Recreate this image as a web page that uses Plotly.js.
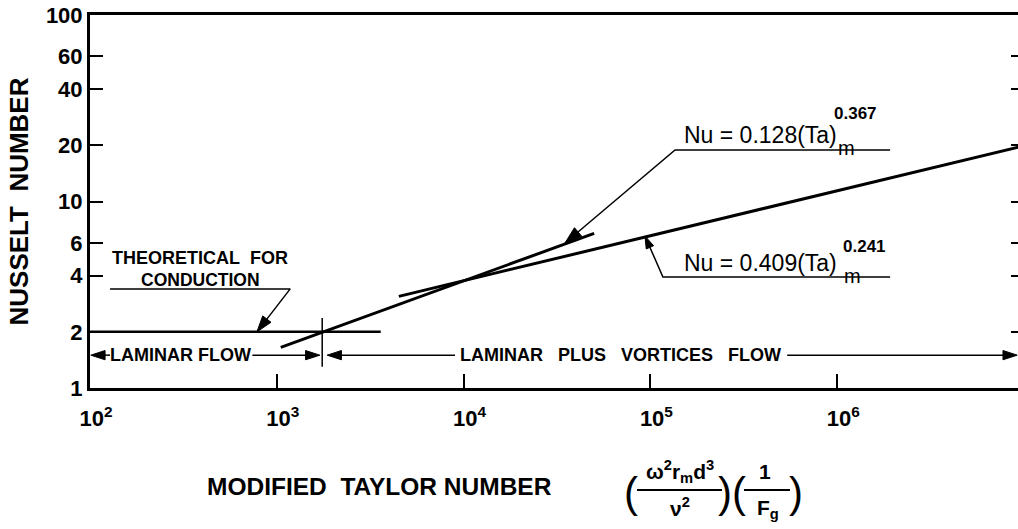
<!DOCTYPE html>
<html><head><meta charset="utf-8">
<script src="https://cdn.plot.ly/plotly-3.0.1.min.js"></script>
<style>html,body{margin:0;padding:0;overflow:hidden;background:#fff}#chart{width:1026px;height:529px}</style>
</head><body><div id="chart"></div>
<script>
// ---- data ----
const xTickVals = [1e2, 1e3, 1e4, 1e5, 1e6];
const xTickText = ['10<sup>2</sup>', '10<sup>3</sup>', '10<sup>4</sup>', '10<sup>5</sup>', '10<sup>6</sup>'];
const yTickVals = [1, 2, 4, 6, 10, 20, 40, 60, 100];
const yTickText = ['1', '2', '4', '6', '10', '20', '40', '60', '100'];

const conductionX = [100, 3600];
const conductionY = [2, 2];
const fit367X = [1050, 50000];
const fit367Y = [1.65, 6.75];
const fit241X = [4500, 1e7];
const fit241Y = [3.1, 19.9];
const transitionX = [1750, 1750];
const transitionY = [1.3, 2.37];
// flow-region arrows at Nu = 1.5 (each segment ends at its arrow tip)
const flowX = [128, 101, null, 740, 1700, null, 9000, 1860, null, 540000, 9.2e6];
const flowY = [1.5, 1.5, null, 1.5, 1.5, null, 1.5, 1.5, null, 1.5, 1.5];
// label underlines with their leader lines (last point is the arrow tip)
const leaderCondX = [128, 1180, 783];
const leaderCondY = [3.4, 3.4, 2.0];
const leader367X = [1.92e6, 135500, 34900];
const leader367Y = [18.9, 18.9, 5.99];
const leader241X = [1.92e6, 116700, 93500];
const leader241Y = [3.94, 3.94, 6.53];

// ---- layout helpers ----
const FAM = 'Liberation Sans, Arial, sans-serif';
const L = 90, T = 15, PW = 934, PH = 373;
const px = v => (v - L) / PW;
const py = v => (T + PH - v) / PH;
const line = (x, y, w, yaxis) => ({x, y, mode: 'lines', type: 'scatter', yaxis: yaxis || 'y',
  line: {color: '#000', width: w}, hoverinfo: 'skip', showlegend: false, connectgaps: false});
function arrowLine(x, y, w, headSize) {
  const sizes = x.map((v, i) => (v !== null && i > 0 && x[i - 1] !== null && (i === x.length - 1 || x[i + 1] === null)) ? headSize : 0);
  return {x, y, mode: 'lines+markers', type: 'scatter', hoverinfo: 'skip', showlegend: false,
    connectgaps: false, line: {color: '#000', width: w},
    marker: {symbol: 'arrow', angleref: 'previous', size: sizes, color: '#000', opacity: 1, line: {width: 1, color: '#000'}}};
}

const traces = [
  line(conductionX, conductionY, 2.5),
  line(fit367X, fit367Y, 3),
  line(fit241X, fit241Y, 3),
  line(transitionX, transitionY, 1.5, 'y2'),
  arrowLine(flowX, flowY, 1.5, 15),
  arrowLine(leaderCondX, leaderCondY, 1.5, 17),
  arrowLine(leader367X, leader367Y, 1.5, 18),
  arrowLine(leader241X, leader241Y, 1.5, 13)
];

function txt(text, x, y, size, o) {
  o = o || {};
  return {xref: 'paper', yref: 'paper', x: px(x), y: py(y), text, showarrow: false,
    xanchor: o.xanchor || 'center', yanchor: 'middle',
    font: {family: FAM, size, color: '#000', weight: o.weight || 'bold'}};
}
const NB = '\u00A0';
const annotations = [
  txt('THEORETICAL' + NB + NB + 'FOR', 200, 258, 18),
  txt('CONDUCTION', 200, 280, 17.5),
  txt('LAMINAR' + NB + 'FLOW', 180, 355, 18),
  txt('LAMINAR' + NB + NB + NB + 'PLUS' + NB + NB + NB + 'VORTICES' + NB + NB + NB + 'FLOW', 620, 355, 18),
  txt('Nu = 0.128(Ta)', 682, 135, 23, {xanchor: 'left', weight: 'normal'}),
  txt('m', 836, 148, 20, {xanchor: 'left', weight: 'normal'}),
  txt('0.367', 832, 114, 17, {xanchor: 'left'}),
  txt('Nu = 0.409(Ta)', 682, 263, 23, {xanchor: 'left', weight: 'normal'}),
  txt('m', 842, 276, 20, {xanchor: 'left', weight: 'normal'}),
  txt('0.241', 841, 246, 17, {xanchor: 'left'}),
  // x-axis title
  txt('MODIFIED' + NB + NB + 'TAYLOR' + NB + 'NUMBER', 205, 486, 24.5, {xanchor: 'left'}),
  txt('(', 631, 492, 42, {weight: 'normal'}),
  txt('\u03C9<sup>2</sup>r<sub>m</sub>d<sup>3</sup>', 680, 471, 21),
  txt('\u03BD<sup>2</sup>', 680, 507, 21),
  txt(')', 725, 492, 42, {weight: 'normal'}),
  txt('(', 739, 492, 42, {weight: 'normal'}),
  txt('1', 765, 471, 21),
  txt('F<sub>g</sub>', 768, 509, 21),
  txt(')', 796, 492, 42, {weight: 'normal'})
];
const shapes = [
  {type: 'line', xref: 'paper', yref: 'paper', x0: px(637), x1: px(722), y0: py(490), y1: py(490), line: {color: '#000', width: 2}},
  {type: 'line', xref: 'paper', yref: 'paper', x0: px(744), x1: px(790), y0: py(490), y1: py(490), line: {color: '#000', width: 2}}
];

const tickFont = {family: FAM, size: 22, color: '#000', weight: 'bold'};
const layout = {
  width: 1026, height: 529,
  margin: {l: L, r: 2, t: T, b: 529 - T - PH},
  paper_bgcolor: '#fff', plot_bgcolor: '#fff', showlegend: false,
  font: {family: FAM, color: '#000'},
  xaxis: {type: 'log', range: [2, 7], tickmode: 'array', tickvals: xTickVals, ticktext: xTickText,
    ticks: 'inside', ticklen: 14, tickwidth: 2, tickcolor: '#000',
    showline: true, linewidth: 3, linecolor: '#000', mirror: true,
    showgrid: false, zeroline: false, tickfont: tickFont, ticklabelshift: 6, ticklabelstandoff: 9},
  yaxis: {type: 'log', range: [0, 2], tickmode: 'array', tickvals: yTickVals, ticktext: yTickText,
    ticks: 'inside', ticklen: 13, tickwidth: 2, tickcolor: '#000',
    showline: true, linewidth: 3, linecolor: '#000', mirror: false,
    showgrid: false, zeroline: false, tickfont: tickFont,
    title: {text: 'NUSSELT' + NB + NB + 'NUMBER', font: {family: FAM, size: 26, color: '#000', weight: 'bold'}, standoff: 10}},
  yaxis2: {type: 'log', range: [0, 2], overlaying: 'y', side: 'right', tickmode: 'array', tickvals: yTickVals,
    ticks: 'inside', ticklen: 13, tickwidth: 2, tickcolor: '#000', showticklabels: false,
    showline: false, showgrid: false, zeroline: false},
  annotations, shapes
};
Plotly.newPlot('chart', traces, layout, {staticPlot: true, displayModeBar: false});
</script></body></html>
